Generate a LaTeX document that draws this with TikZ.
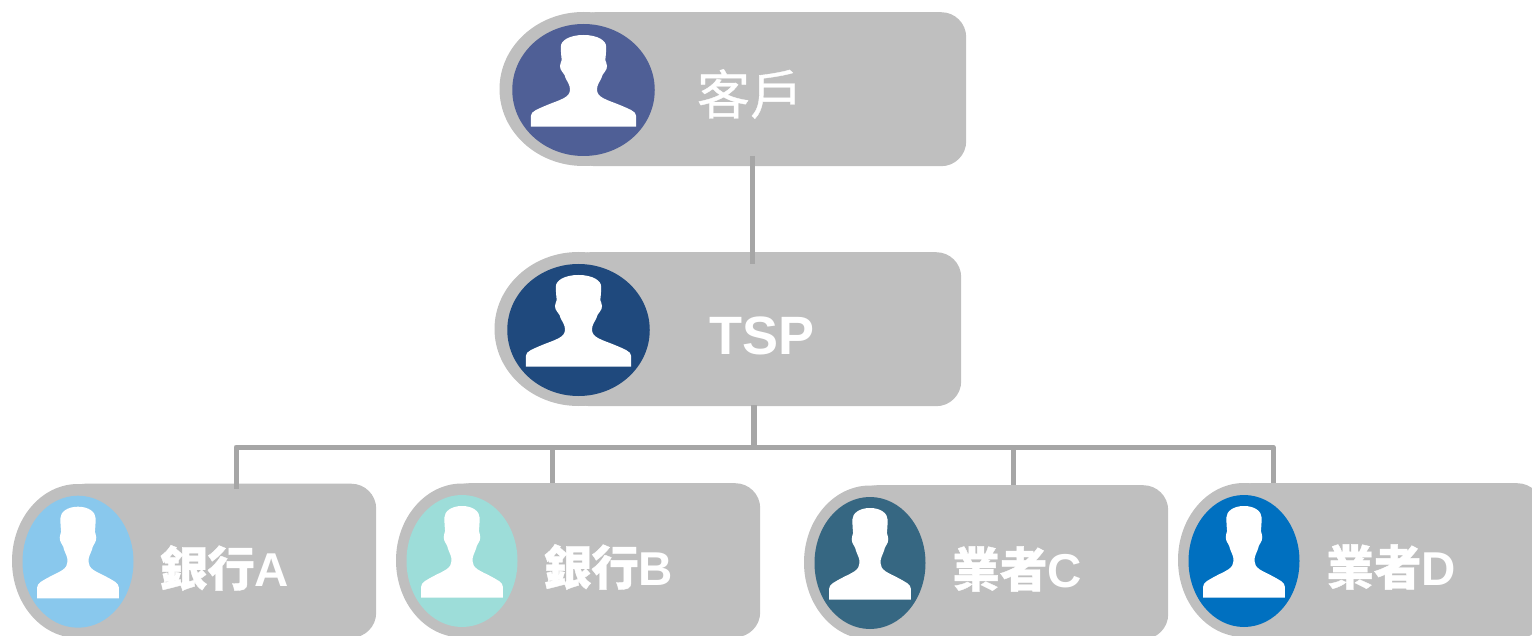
\documentclass[tikz,border=0pt]{standalone}
\usepackage{fontspec}
\usetikzlibrary{shapes.geometric}
\setmainfont{Liberation Sans}
\newfontfamily\cjk[FakeBold=0.7]{Noto Sans CJK TC}
\newfontfamily\cjkheavy[FakeBold=0.8]{Noto Sans CJK TC}
\definecolor{cardgray}{HTML}{BFBFBF}
\definecolor{linegray}{HTML}{A6A6A6}
\definecolor{cA}{HTML}{4F5F96}
\definecolor{cB}{HTML}{1F497D}
\definecolor{cC}{HTML}{89C8ED}
\definecolor{cD}{HTML}{9DDDD9}
\definecolor{cE}{HTML}{366782}
\definecolor{cF}{HTML}{0070C0}
\tikzset{
  cardbody/.style={fill=cardgray,rounded corners=25pt,minimum height=154pt,inner sep=0pt,anchor=north west},
  halo/.style={ellipse,fill=cardgray,inner sep=0pt},
  face/.style={ellipse,inner sep=0pt,minimum height=132pt},
  bigface/.style={face,minimum width=142.5pt},
  smallface/.style={face,minimum width=111pt},
  bighalo/.style={halo,minimum width=168pt,minimum height=154pt},
  smallhalo/.style={halo,minimum width=132pt,minimum height=154pt},
  cardtext/.style={text=white,inner sep=0pt},
  banktext/.style={cardtext,font=\bfseries\fontsize{47.5}{47.5}\selectfont},
  link/.style={draw=linegray,line width=5pt},
  person/.pic={
    \fill[white] (-52.7,36.7) -- (-52.7,26)
      .. controls (-52.7,21) and (-44,18.5) .. (-38.7,16)
      .. controls (-32,13) and (-25,11) .. (-20,8.3)
      .. controls (-15.5,6) and (-13.5,3) .. (-13.5,0)
      .. controls (-13.5,-2.5) and (-14,-4.5) .. (-14.8,-6)
      .. controls (-16,-9) and (-18,-11) .. (-19,-15)
      .. controls (-20,-18) and (-23.5,-19) .. (-23.5,-24)
      .. controls (-23.5,-27) and (-22,-28) .. (-21.8,-30)
      .. controls (-22.2,-34) and (-22.7,-38) .. (-22.7,-43.3)
      .. controls (-22.7,-49.5) and (-14,-55) .. (0,-55)
      .. controls (14,-55) and (22.7,-49.5) .. (22.7,-43.3)
      .. controls (22.7,-38) and (22.2,-34) .. (21.8,-30)
      .. controls (22,-28) and (23.5,-27) .. (23.5,-24)
      .. controls (23.5,-19) and (20,-18) .. (19,-15)
      .. controls (18,-11) and (16,-9) .. (14.8,-6)
      .. controls (14,-4.5) and (13.5,-2.5) .. (13.5,0)
      .. controls (13.5,3) and (15.5,6) .. (20,8.3)
      .. controls (25,11) and (32,13) .. (38.7,16)
      .. controls (44,18.5) and (52.7,21) .. (52.7,26)
      -- (52.7,36.7) -- cycle;
  }
}
\begin{document}
\begin{tikzpicture}[x=1pt,y=-1pt]
\useasboundingbox (0,0) rectangle (1532,636);
\clip (0,0) rectangle (1532,636);

% top card
\node[bighalo] (kehuH) at (583.5,89) {};
\node[cardbody,minimum width=396pt] (kehu) at (570,12) {};
\node[bigface,fill=cA] (kehuF) at (583.5,90) {};
\pic at (kehuF.center) {person};
\node[cardtext,font=\cjk\fontsize{53}{53}\selectfont] (kehuT) at (750,94) {客戶};

% TSP card
\node[bighalo] (tspH) at (578.5,329) {};
\node[cardbody,minimum width=396pt] (tsp) at (565,252) {};
\node[bigface,fill=cB] (tspF) at (578.5,330) {};
\pic at (tspF.center) {person};
\node[cardtext,font=\bfseries\fontsize{54}{54}\selectfont] (tspT) at (762,336) {TSP};

% bank A
\node[smallhalo] (aH) at (78,561) {};
\node[cardbody,minimum width=316pt] (a) at (60,483.5) {};
\node[smallface,fill=cC] (aF) at (78,561.7) {};
\pic[xscale=.777] at (aF.center) {person};
\node[banktext] (aT) at (224.5,568) {{\cjkheavy 銀行}A};

% bank B
\node[smallhalo] (bH) at (462,560.5) {};
\node[cardbody,minimum width=316pt] (b) at (444,483) {};
\node[smallface,fill=cD] (bF) at (462,561) {};
\pic[xscale=.777] at (bF.center) {person};
\node[banktext] (bT) at (608.5,567) {{\cjkheavy 銀行}B};

% operator C
\node[smallhalo] (cH) at (870,562.5) {};
\node[cardbody,minimum width=316pt] (c) at (852,485) {};
\node[smallface,fill=cE] (cF) at (870,563) {};
\pic[xscale=.777] at (cF.center) {person};
\node[banktext] (cT) at (1017,569) {{\cjkheavy 業者}C};

% connectors
\coordinate (kehuOut) at (752,156);
\coordinate (tspIn) at (752,264);
\coordinate (tspOut) at (754,405);
\coordinate (busMid) at (754,447);
\coordinate (busL) at (236,447);
\coordinate (busR) at (1273,447);
\coordinate (aIn) at (236,489);
\coordinate (bIn) at (552,483);
\coordinate (cIn) at (1013,485);
\coordinate (dIn) at (1273,486);
\draw[link] (kehuOut) -- (tspIn);
\draw[link,line width=5.5pt] (tspOut) -- (busMid);
\draw[link,line join=round] (aIn) -- (busL) -- (busR) -- (dIn);
\draw[link] (bIn |- busMid) -- (bIn);
\draw[link] (cIn |- busMid) -- (cIn);

% operator D
\node[smallhalo] (dH) at (1244,560) {};
\node[cardbody,minimum width=316pt,minimum height=156pt] (d) at (1226,483) {};
\node[smallface,fill=cF] (dF) at (1244,561) {};
\pic[xscale=.777] at (dF.center) {person};
\node[banktext] (dT) at (1391,567) {{\cjkheavy 業者}D};
\end{tikzpicture}
\end{document}
